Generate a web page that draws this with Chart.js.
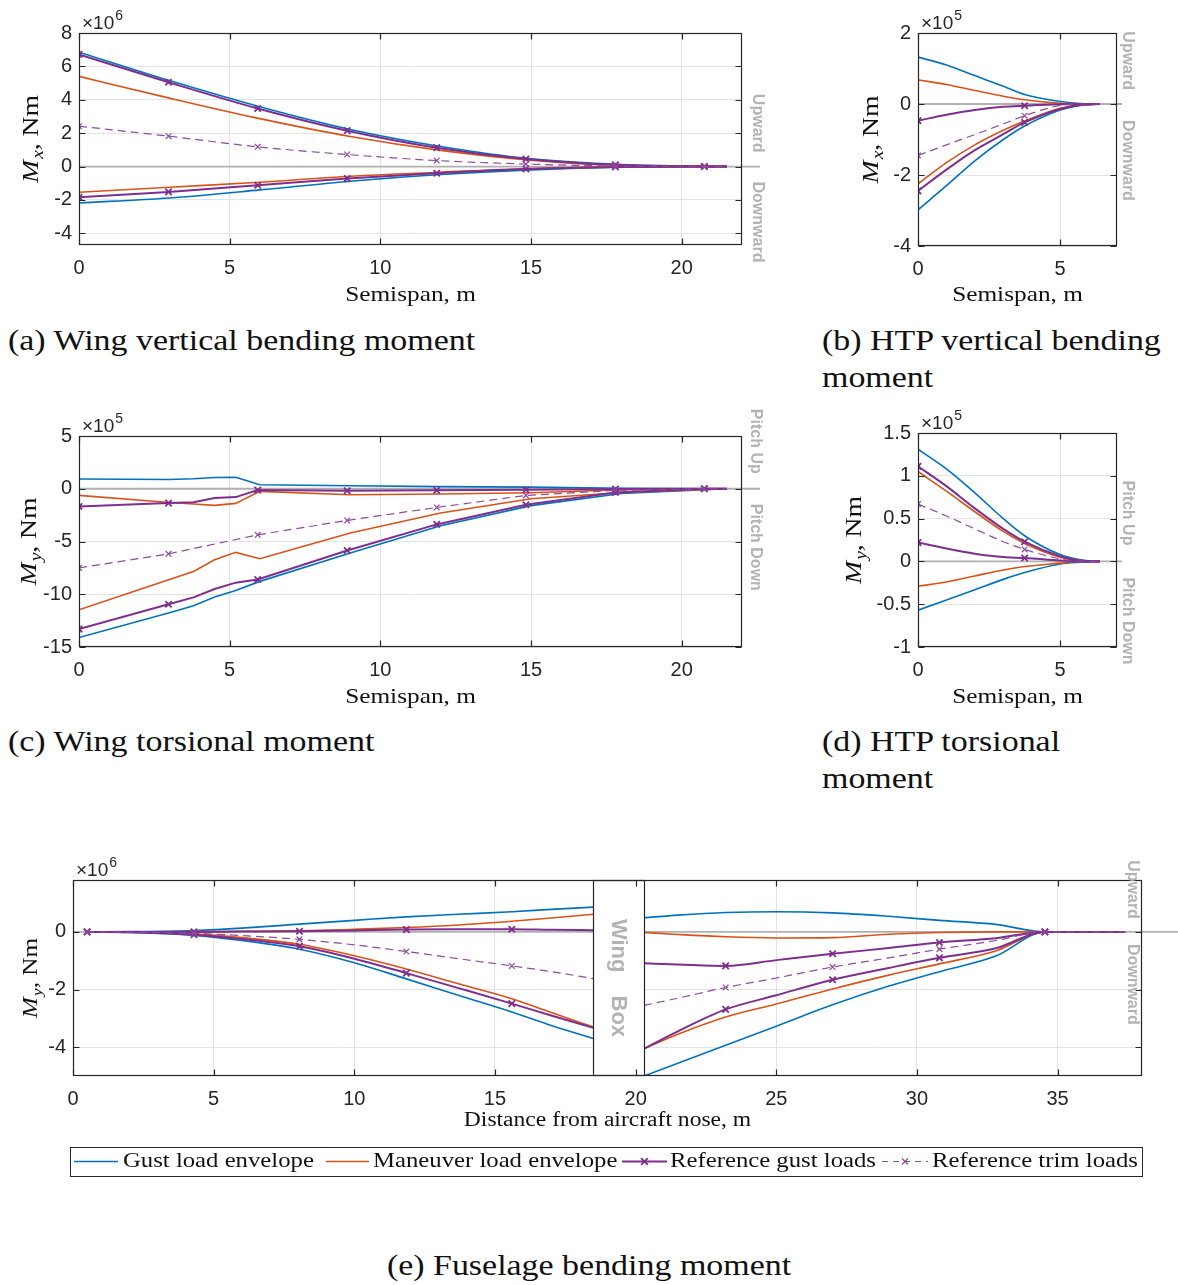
<!DOCTYPE html>
<html><head><meta charset="utf-8">
<script src="https://cdn.jsdelivr.net/npm/chart.js@4.4.1/dist/chart.umd.min.js"></script>
<style>
html,body{margin:0;padding:0;background:#fff;}
body{width:1178px;height:1285px;position:relative;overflow:hidden;}
canvas{position:absolute;}
.cap{position:absolute;font-family:"Liberation Serif","Times New Roman",serif;font-size:29.5px;line-height:37px;color:#111;white-space:nowrap;transform:scaleX(1.15);transform-origin:0 0;}
</style></head><body>
<canvas id="ca"></canvas><canvas id="cb"></canvas><canvas id="cc"></canvas><canvas id="cd"></canvas><canvas id="ce"></canvas>
<div class="cap" style="left:8px;top:321.5px">(a) Wing vertical bending moment</div>
<div class="cap" style="left:822px;top:321.5px">(b) HTP vertical bending<br>moment</div>
<div class="cap" style="left:8px;top:722.5px">(c) Wing torsional moment</div>
<div class="cap" style="left:822px;top:722.5px">(d) HTP torsional<br>moment</div>
<div class="cap" style="left:0;top:1246.5px;width:1178px;text-align:center;transform-origin:589px 0">(e) Fuselage bending moment</div>
<script>
// ---------------- DATA ----------------
const seriesNames = ['Gust load envelope', 'Maneuver load envelope', 'Reference gust loads', 'Reference trim loads'];

// (a) Wing vertical bending moment, Mx [x1e6 Nm]
const wingX      = [0, 3, 6, 9, 12, 15, 18, 21.5];
const aGustUp    = [6.85, 5.15, 3.58, 2.22, 1.2, 0.46, 0.12, 0];
const aManUp     = [5.4, 4.1, 2.87, 1.8, 0.97, 0.38, 0.06, 0];
const aManLow    = [-1.54, -1.24, -0.94, -0.58, -0.34, -0.12, -0.02, 0];
const aGustLow   = [-2.18, -1.88, -1.4, -0.88, -0.48, -0.2, -0.04, 0];
const wingRefX   = [0, 2.97, 5.93, 8.9, 11.87, 14.83, 17.8, 20.75, 21.5];
const wingMarkX  = [0, 2.97, 5.93, 8.9, 11.87, 14.83, 17.8, 20.75];
const aRefUp     = [6.72, 5.05, 3.48, 2.15, 1.13, 0.45, 0.1, 0, 0];
const aRefLow    = [-1.84, -1.52, -1.12, -0.72, -0.4, -0.15, -0.03, 0, 0];
const aTrim      = [2.42, 1.82, 1.18, 0.72, 0.36, 0.15, 0.03, 0, 0];

// (b) HTP vertical bending moment, Mx [x1e5 Nm]
const htpX       = [0, 1, 2, 3, 3.75, 5, 5.7, 6.4];
const htpMarkX   = [0, 3.75];
const bGustUp    = [1.32, 1.1, 0.8, 0.5, 0.27, 0.07, 0.01, 0];
const bManUp     = [0.68, 0.55, 0.38, 0.22, 0.12, 0.02, 0, 0];
const bRefUp     = [-0.47, -0.3, -0.17, -0.08, -0.05, -0.01, 0, 0];
const bTrim      = [-1.45, -1.15, -0.86, -0.56, -0.33, -0.04, 0, 0];
const bManLow    = [-2.25, -1.65, -1.15, -0.74, -0.48, -0.12, -0.02, 0];
const bRefLow    = [-2.45, -1.85, -1.3, -0.85, -0.52, -0.14, -0.03, 0];
const bGustLow   = [-2.98, -2.3, -1.6, -1.0, -0.62, -0.17, -0.04, 0];

// (c) Wing torsional moment, My [x1e5 Nm]
const wingTX     = [0, 3, 3.8, 4.5, 5.2, 6, 9, 12, 15, 18, 21.5];
const cGustUp    = [0.92, 0.88, 0.95, 1.07, 1.08, 0.38, 0.28, 0.2, 0.15, 0.05, 0];
const cManUp     = [-0.63, -1.3, -1.45, -1.58, -1.39, -0.25, -0.57, -0.5, -0.38, -0.1, 0];
const cManLow    = [-11.47, -8.6, -7.84, -6.73, -6.03, -6.63, -4.2, -2.3, -0.95, -0.35, 0];
const cGustLow   = [-14.1, -11.75, -11.1, -10.27, -9.64, -8.78, -6.1, -3.5, -1.6, -0.45, 0];
const wingTRefX  = [0, 2.97, 3.8, 4.5, 5.2, 5.93, 8.9, 11.87, 14.83, 17.8, 20.75, 21.5];
const cRefUp     = [-1.68, -1.36, -1.27, -0.88, -0.79, -0.13, -0.19, -0.15, -0.1, -0.03, 0, 0];
const cRefLow    = [-13.3, -10.95, -10.3, -9.5, -8.9, -8.6, -5.85, -3.38, -1.52, -0.35, 0, 0];
const cTrim      = [-7.5, -6.17, -4.37, -3.0, -1.77, -0.63, -0.15, 0, 0];

// (d) HTP torsional moment, My [x1e5 Nm]
const dGustUp    = [1.31, 1.08, 0.8, 0.5, 0.3, 0.08, 0.02, 0];
const dRefUp     = [1.11, 0.88, 0.62, 0.38, 0.23, 0.06, 0.01, 0];
const dManUp     = [1.05, 0.82, 0.58, 0.35, 0.21, 0.05, 0.01, 0];
const dTrim      = [0.67, 0.53, 0.38, 0.23, 0.14, 0.03, 0, 0];
const dRefLow    = [0.22, 0.15, 0.09, 0.05, 0.04, 0.01, 0, 0];
const dManLow    = [-0.29, -0.24, -0.17, -0.1, -0.06, -0.02, 0, 0];
const dGustLow   = [-0.57, -0.45, -0.33, -0.21, -0.13, -0.03, -0.01, 0];

// (e) Fuselage bending moment, My [x1e6 Nm]; front and rear of the wing box
const wingBox    = [18.5, 20.3];
const fusFrontX  = [0.5, 2, 4.3, 6, 8.05, 10, 11.85, 13.7, 15.6, 17, 18.5];
const fusRearX   = [20.3, 21.5, 23.2, 25, 27.0, 29, 30.8, 32.8, 34.55, 37.4];
const fusMarkX   = [0.5, 4.3, 8.05, 11.85, 15.6, 23.2, 27.0, 30.8, 34.55];
const eGustUpF   = [0, 0.01, 0.05, 0.13, 0.27, 0.4, 0.52, 0.61, 0.7, 0.78, 0.86];
const eGustUpR   = [0.49, 0.58, 0.67, 0.7, 0.66, 0.54, 0.4, 0.26, 0, 0];
const eManUpF    = [0, 0, 0.01, 0.02, 0.04, 0.09, 0.15, 0.24, 0.37, 0.48, 0.61];
const eManUpR    = [-0.02, -0.09, -0.17, -0.21, -0.2, -0.08, -0.02, 0, 0, 0];
const eRefUpF    = [0, 0, 0, 0.01, 0.02, 0.05, 0.08, 0.09, 0.09, 0.07, 0.06];
const eRefUpR    = [-1.09, -1.13, -1.18, -0.98, -0.76, -0.56, -0.37, -0.22, 0, 0];
const eTrimF     = [0, -0.01, -0.05, -0.13, -0.26, -0.45, -0.68, -0.93, -1.18, -1.38, -1.62];
const eTrimR     = [-2.55, -2.3, -1.93, -1.6, -1.22, -0.9, -0.6, -0.3, 0, 0];
const eRefLowF   = [0, -0.01, -0.1, -0.25, -0.5, -0.93, -1.43, -1.95, -2.49, -2.9, -3.33];
const eRefLowR   = [-4.05, -3.45, -2.69, -2.2, -1.66, -1.25, -0.9, -0.57, 0, 0];
const eManLowF   = [0, -0.01, -0.07, -0.2, -0.43, -0.83, -1.29, -1.8, -2.32, -2.8, -3.3];
const eManLowR   = [-4.05, -3.55, -2.95, -2.5, -1.98, -1.5, -1.11, -0.66, 0, 0];
const eGustLowF  = [0, -0.02, -0.12, -0.3, -0.6, -1.07, -1.63, -2.2, -2.78, -3.25, -3.7];
const eGustLowR  = [-5.0, -4.56, -3.93, -3.27, -2.53, -1.88, -1.38, -0.84, 0, 0];

// ---------------- STYLE ----------------
const SX = 1.15;
const SERIF = '"Liberation Serif","Times New Roman",serif';
const SANS = '"Liberation Sans",Arial,sans-serif';
const AXIS = '#262626';
const SIDE = '#b3b3b3';
const STY = {
  gust: {name: 0, color: '#0072BD', width: 1.6, order: 3},
  man:  {name: 1, color: '#D95319', width: 1.6, order: 2},
  ref:  {name: 2, color: '#7E2F8E', width: 2, order: 1, mr: 4.5, mw: 1.8},
  trim: {name: 3, color: '#8E4A9E', width: 1.2, order: 0, dash: [8, 5], mr: 4, mw: 1.2}
};

function ds(kind, xs, ys, marks, curve) {
  const s = STY[kind];
  return {
    label: seriesNames[s.name],
    data: xs.map((x, i) => ({x: x, y: ys[i]})),
    borderColor: s.color, backgroundColor: s.color, borderWidth: s.width,
    borderDash: s.dash || [], order: s.order, fill: false,
    cubicInterpolationMode: curve ? 'monotone' : 'default', tension: 0,
    pointStyle: 'crossRot',
    pointRadius: marks ? (c => (c.raw && marks.indexOf(c.raw.x) >= 0) ? s.mr : 0) : 0,
    pointHoverRadius: 0,
    pointBorderColor: s.color, pointBackgroundColor: s.color, pointBorderWidth: s.mw || 1
  };
}

function drawScaledText(ctx, txt, x, y, font, align, baseline, color) {
  ctx.save();
  ctx.font = font; ctx.fillStyle = color || '#111';
  ctx.textBaseline = baseline || 'middle';
  const w = ctx.measureText(txt).width * SX;
  let x0 = x;
  if (align === 'center') x0 = x - w / 2; else if (align === 'right') x0 = x - w;
  ctx.translate(x0, y); ctx.scale(SX, 1); ctx.textAlign = 'left';
  ctx.fillText(txt, 0, 0);
  ctx.restore();
}

const decoPlugin = {
  id: 'deco',
  beforeDatasetsDraw(chart, args, o) {
    const {ctx, chartArea: a} = chart;
    const y0 = chart.scales.y.getPixelForValue(0);
    ctx.save(); ctx.strokeStyle = '#b0b0b0'; ctx.lineWidth = 1.8;
    ctx.beginPath(); ctx.moveTo(a.left, y0); ctx.lineTo(a.right + o.zeroExt, y0); ctx.stroke();
    ctx.restore();
  },
  afterDatasetsDraw(chart, args, o) {
    const {ctx, chartArea: a} = chart;
    const xs = chart.scales.x, ys = chart.scales.y;
    if (o.box) {
      const x1 = Math.round(xs.getPixelForValue(o.box[0])), x2 = Math.round(xs.getPixelForValue(o.box[1]));
      ctx.save();
      ctx.fillStyle = '#fff'; ctx.fillRect(x1, a.top, x2 - x1, a.bottom - a.top);
      ctx.strokeStyle = AXIS; ctx.lineWidth = 1.2;
      ctx.strokeRect(x1 + 0.5, Math.round(a.top) + 0.5, x2 - x1, Math.round(a.bottom - a.top) - 1);
      ctx.font = 'bold 22px ' + SANS; ctx.fillStyle = SIDE; ctx.textBaseline = 'middle';
      const w1 = ctx.measureText(o.boxText[0]).width, w2 = ctx.measureText(o.boxText[1]).width;
      const tot = w1 + o.boxGap + w2;
      ctx.translate((x1 + x2) / 2, (a.top + a.bottom) / 2); ctx.rotate(Math.PI / 2);
      ctx.textAlign = 'left';
      ctx.fillText(o.boxText[0], -tot / 2, 0);
      ctx.fillText(o.boxText[1], -tot / 2 + w1 + o.boxGap, 0);
      ctx.restore();
    }
    // frame + inward ticks
    ctx.save();
    ctx.strokeStyle = AXIS; ctx.lineWidth = 1.2;
    const L = Math.round(a.left) + 0.5, R = Math.round(a.right) - 0.5, T = Math.round(a.top) + 0.5, B = Math.round(a.bottom) - 0.5;
    ctx.strokeRect(L, T, R - L, B - T);
    ctx.beginPath();
    const tl = 6;
    xs.ticks.forEach(t => {
      const p = Math.round(xs.getPixelForValue(t.value)) + 0.5;
      ctx.moveTo(p, B); ctx.lineTo(p, B - tl); ctx.moveTo(p, T); ctx.lineTo(p, T + tl);
    });
    ys.ticks.forEach(t => {
      const p = Math.round(ys.getPixelForValue(t.value)) + 0.5;
      ctx.moveTo(L, p); ctx.lineTo(L + tl, p); ctx.moveTo(R, p); ctx.lineTo(R - tl, p);
    });
    ctx.stroke();
    ctx.restore();
  },
  afterDraw(chart, args, o) {
    const {ctx, chartArea: a} = chart;
    const px = v => v - o.ox, py = v => v - o.oy;
    const cxA = (a.left + a.right) / 2, cyA = (a.top + a.bottom) / 2;
    // x title
    drawScaledText(ctx, o.xTitle, cxA, py(o.xTitleY), o.titleSize + 'px ' + SERIF, 'center', 'middle', '#111');
    // y title  M_sub, Nm
    const ts = o.yTitleSize;
    ctx.save();
    ctx.translate(px(o.yTitleX), cyA); ctx.rotate(-Math.PI / 2); ctx.scale(SX, 1);
    ctx.fillStyle = '#111'; ctx.textBaseline = 'alphabetic'; ctx.textAlign = 'left';
    const fM = 'italic ' + ts + 'px ' + SERIF;
    const fS = 'italic ' + Math.round(ts * 0.7) + 'px ' + SERIF;
    const fN = ts + 'px ' + SERIF;
    ctx.font = fM; const wM = ctx.measureText('M').width + 1;
    ctx.font = fS; const wS = ctx.measureText(o.sub).width;
    ctx.font = fN; const wN = ctx.measureText(', Nm').width;
    let x0 = -(wM + wS + wN) / 2; const bl = ts * 0.33;
    ctx.font = fM; ctx.fillText('M', x0, bl); x0 += wM;
    ctx.font = fS; ctx.fillText(o.sub, x0, bl + ts * 0.22); x0 += wS;
    ctx.font = fN; ctx.fillText(', Nm', x0, bl);
    ctx.restore();
    // multiplier x10^n
    ctx.save();
    ctx.fillStyle = AXIS; ctx.textBaseline = 'alphabetic'; ctx.textAlign = 'left';
    ctx.font = '19px ' + SANS;
    const mx = a.left + 3, my = a.top - 4;
    ctx.fillText('\u00d710', mx, my);
    const wt = ctx.measureText('\u00d710').width;
    ctx.font = '14px ' + SANS;
    ctx.fillText(o.exp, mx + wt + 1, my - 9);
    ctx.restore();
    // side labels
    const y0 = chart.scales.y.getPixelForValue(0);
    ctx.save();
    ctx.font = 'bold 16px ' + SANS; ctx.fillStyle = SIDE; ctx.textBaseline = 'middle';
    ctx.save(); ctx.translate(px(o.sideX), y0 - o.sideGap[0]); ctx.rotate(Math.PI / 2);
    ctx.textAlign = 'right'; ctx.fillText(o.side[0], 0, 0); ctx.restore();
    ctx.save(); ctx.translate(px(o.sideX), y0 + o.sideGap[1]); ctx.rotate(Math.PI / 2);
    ctx.textAlign = 'left'; ctx.fillText(o.side[1], 0, 0); ctx.restore();
    ctx.restore();
    // legend
    if (o.legend) {
      const Lg = o.legend;
      ctx.save();
      ctx.strokeStyle = AXIS; ctx.lineWidth = 1;
      ctx.fillStyle = '#fff';
      ctx.fillRect(px(Lg.box[0]), py(Lg.box[1]), Lg.box[2] - Lg.box[0], Lg.box[3] - Lg.box[1]);
      ctx.strokeRect(px(Lg.box[0]) + 0.5, py(Lg.box[1]) + 0.5, Lg.box[2] - Lg.box[0], Lg.box[3] - Lg.box[1]);
      const cy = py((Lg.box[1] + Lg.box[3]) / 2);
      Lg.items.forEach(it => {
        const s = STY[it.kind];
        ctx.strokeStyle = s.color; ctx.lineWidth = s.width; ctx.setLineDash(s.dash ? [6, 5] : []);
        ctx.beginPath(); ctx.moveTo(px(it.l1), cy); ctx.lineTo(px(it.l2), cy); ctx.stroke();
        ctx.setLineDash([]);
        if (s.mr) {
          const m = px((it.l1 + it.l2) / 2), r = s.mr * 0.75;
          ctx.lineWidth = s.mw;
          ctx.beginPath(); ctx.moveTo(m - r, cy - r); ctx.lineTo(m + r, cy + r); ctx.moveTo(m - r, cy + r); ctx.lineTo(m + r, cy - r); ctx.stroke();
        }
        drawScaledText(ctx, seriesNames[s.name], px(it.t), cy, '21.5px ' + SERIF, 'left', 'middle', '#111');
      });
      ctx.restore();
    }
  }
};

function makeChart(id, rect, area, xr, yr, datasets, deco) {
  const cv = document.getElementById(id);
  cv.width = rect[2]; cv.height = rect[3];
  cv.style.left = rect[0] + 'px'; cv.style.top = rect[1] + 'px';
  cv.style.width = rect[2] + 'px'; cv.style.height = rect[3] + 'px';
  const yW = area[0] - rect[0], xH = rect[1] + rect[3] - area[3];
  deco.ox = rect[0]; deco.oy = rect[1];
  const tickFont = {family: SANS, size: 20};
  const fmt = v => String(Number(v.toFixed(3)));
  new Chart(cv, {
    type: 'line',
    data: {datasets: datasets},
    options: {
      responsive: false, animation: false, devicePixelRatio: 1,
      layout: {padding: {left: 0, top: area[1] - rect[1], right: rect[0] + rect[2] - area[2], bottom: 0}},
      plugins: {legend: {display: false}, tooltip: {enabled: false}, deco: deco},
      scales: {
        x: {type: 'linear', min: xr[0], max: xr[1],
            ticks: {stepSize: xr[2], includeBounds: false, padding: 11, font: tickFont, color: AXIS, maxRotation: 0, autoSkip: false, callback: fmt},
            grid: {color: '#e3e3e3', drawTicks: false, lineWidth: 1}, border: {display: false},
            afterFit: s => { s.height = xH; }},
        y: {type: 'linear', min: yr[0], max: yr[1],
            ticks: {stepSize: yr[2], includeBounds: false, padding: 7, font: tickFont, color: AXIS, autoSkip: false, callback: fmt},
            grid: {color: '#e3e3e3', drawTicks: false, lineWidth: 1}, border: {display: false},
            afterFit: s => { s.width = yW; }}
      }
    },
    plugins: [decoPlugin]
  });
}

// (a)
makeChart('ca', [0, 0, 800, 315], [79, 33, 742, 245], [0, 22, 5], [-4.7, 8, 2], [
  ds('trim', wingRefX, aTrim, wingMarkX, true),
  ds('ref', wingRefX, aRefUp, wingMarkX, true),
  ds('ref', wingRefX, aRefLow, wingMarkX, true),
  ds('man', wingX, aManUp, null, true),
  ds('man', wingX, aManLow, null, true),
  ds('gust', wingX, aGustUp, null, true),
  ds('gust', wingX, aGustLow, null, true)
], {sub: 'x', exp: '6', yTitleX: 30, titleSize: 22, yTitleSize: 24, xTitle: 'Semispan, m', xTitleY: 295,
    side: ['Upward', 'Downward'], sideX: 757, sideGap: [14, 15], zeroExt: 18});

// (b)
makeChart('cb', [800, 0, 378, 315], [918, 33, 1117, 246], [0, 7, 5], [-4, 2, 2], [
  ds('trim', htpX, bTrim, htpMarkX, true),
  ds('ref', htpX, bRefUp, htpMarkX, true),
  ds('ref', htpX, bRefLow, htpMarkX, true),
  ds('man', htpX, bManUp, null, true),
  ds('man', htpX, bManLow, null, true),
  ds('gust', htpX, bGustUp, null, true),
  ds('gust', htpX, bGustLow, null, true)
], {sub: 'x', exp: '5', yTitleX: 870, titleSize: 22, yTitleSize: 24, xTitle: 'Semispan, m', xTitleY: 295,
    side: ['Upward', 'Downward'], sideX: 1127, sideGap: [14, 16], zeroExt: 5});

// (c)
makeChart('cc', [0, 400, 800, 315], [79, 436, 742, 647], [0, 22, 5], [-15, 5, 5], [
  ds('trim', wingRefX, cTrim, wingMarkX, false),
  ds('ref', wingTRefX, cRefUp, wingMarkX, false),
  ds('ref', wingTRefX, cRefLow, wingMarkX, false),
  ds('man', wingTX, cManUp, null, false),
  ds('man', wingTX, cManLow, null, false),
  ds('gust', wingTX, cGustUp, null, false),
  ds('gust', wingTX, cGustLow, null, false)
], {sub: 'y', exp: '5', yTitleX: 28, titleSize: 22, yTitleSize: 24, xTitle: 'Semispan, m', xTitleY: 697,
    side: ['Pitch Up', 'Pitch Down'], sideX: 755, sideGap: [15, 15], zeroExt: 18});

// (d)
makeChart('cd', [800, 400, 378, 315], [918, 433, 1117, 647], [0, 7, 5], [-1, 1.5, 0.5], [
  ds('trim', htpX, dTrim, htpMarkX, true),
  ds('ref', htpX, dRefUp, htpMarkX, true),
  ds('ref', htpX, dRefLow, htpMarkX, true),
  ds('man', htpX, dManUp, null, true),
  ds('man', htpX, dManLow, null, true),
  ds('gust', htpX, dGustUp, null, true),
  ds('gust', htpX, dGustLow, null, true)
], {sub: 'y', exp: '5', yTitleX: 853, titleSize: 22, yTitleSize: 24, xTitle: 'Semispan, m', xTitleY: 697,
    side: ['Pitch Up', 'Pitch Down'], sideX: 1127, sideGap: [16, 16], zeroExt: 5});

// (e)
makeChart('ce', [0, 850, 1178, 335], [73, 880, 1142, 1076], [0, 38, 5], [-5, 1.8, 2], [
  ds('trim', fusFrontX, eTrimF, fusMarkX, true), ds('trim', fusRearX, eTrimR, fusMarkX, true),
  ds('ref', fusFrontX, eRefUpF, fusMarkX, true), ds('ref', fusRearX, eRefUpR, fusMarkX, true),
  ds('ref', fusFrontX, eRefLowF, fusMarkX, true), ds('ref', fusRearX, eRefLowR, fusMarkX, true),
  ds('man', fusFrontX, eManUpF, null, true), ds('man', fusRearX, eManUpR, null, true),
  ds('man', fusFrontX, eManLowF, null, true), ds('man', fusRearX, eManLowR, null, true),
  ds('gust', fusFrontX, eGustUpF, null, true), ds('gust', fusRearX, eGustUpR, null, true),
  ds('gust', fusFrontX, eGustLowF, null, true), ds('gust', fusRearX, eGustLowR, null, true)
], {sub: 'y', exp: '6', yTitleX: 30, titleSize: 20.5, yTitleSize: 22, xTitle: 'Distance from aircraft nose, m', xTitleY: 1121,
    side: ['Upward', 'Downward'], sideX: 1132, sideGap: [13, 12], zeroExt: 36,
    box: wingBox, boxText: ['Wing', 'Box'], boxGap: 23,
    legend: {box: [70, 1147, 1142, 1176], items: [
      {kind: 'gust', l1: 74, l2: 118, t: 123},
      {kind: 'man', l1: 326, l2: 369, t: 373},
      {kind: 'ref', l1: 622, l2: 667, t: 670},
      {kind: 'trim', l1: 882, l2: 928, t: 932}
    ]}});
</script>
</body></html>
